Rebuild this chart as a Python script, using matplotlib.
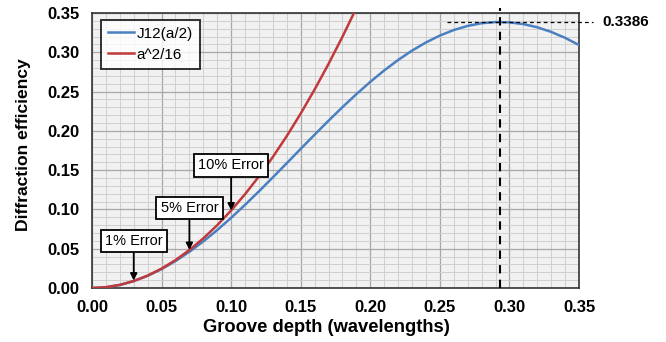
import matplotlib
matplotlib.use("Agg")
import matplotlib.pyplot as plt
from matplotlib.ticker import MultipleLocator, FormatStrFormatter

# Data
depth = [0.00, 0.01, 0.02, 0.03, 0.04, 0.05, 0.06, 0.07, 0.08, 0.09,
         0.10, 0.11, 0.12, 0.13, 0.14, 0.15, 0.16, 0.17, 0.18, 0.19,
         0.20, 0.21, 0.22, 0.23, 0.24, 0.25, 0.26, 0.27, 0.28, 0.29,
         0.30, 0.31, 0.32, 0.33, 0.34, 0.35]
j1_sq = [0.0000, 0.00099, 0.00393, 0.00880, 0.01554, 0.02407, 0.03429, 0.04607,
         0.05928, 0.07376, 0.08935, 0.10585, 0.12308, 0.14084, 0.15891, 0.17709,
         0.19516, 0.21293, 0.23017, 0.24671, 0.26234, 0.27689, 0.29020, 0.30212,
         0.31252, 0.32129, 0.32833, 0.33357, 0.33697, 0.33848, 0.33811, 0.33587,
         0.33180, 0.32595, 0.31839, 0.30923]
depth_red = [0.00, 0.01, 0.02, 0.03, 0.04, 0.05, 0.06, 0.07, 0.08, 0.09,
             0.10, 0.11, 0.12, 0.13, 0.14, 0.15, 0.16, 0.17, 0.18, 0.19]
a2_16 = [0.0000, 0.00099, 0.00395, 0.00888, 0.01579, 0.02467, 0.03553, 0.04836,
         0.06317, 0.07994, 0.09870, 0.11942, 0.14212, 0.16680, 0.19344, 0.22207,
         0.25266, 0.28523, 0.31978, 0.35629]
series_labels = ["J12(a/2)", "a^2/16"]
error_labels = ["1% Error", "5% Error", "10% Error"]
error_x = [0.03, 0.07, 0.10]
error_y = [0.0095, 0.0484, 0.0987]
peak_x = 0.293
peak_y = 0.3386

plt.rcParams['font.family'] = ['Liberation Sans', 'DejaVu Sans']

fig = plt.figure(figsize=(6.66, 3.42), dpi=100)
ax = fig.add_axes([92/666, 1 - 288/342, (579-92)/666, (288-13)/342])
ax.set_facecolor('#f1f1f1')

ax.plot(depth, j1_sq, color='#4a7fc1', lw=1.8, label=series_labels[0], zorder=4)
ax.plot(depth_red, a2_16, color='#c0393b', lw=1.8, label=series_labels[1], zorder=4)

ax.set_xlim(0, 0.35)
ax.set_ylim(0, 0.35)
ax.xaxis.set_major_locator(MultipleLocator(0.05))
ax.yaxis.set_major_locator(MultipleLocator(0.05))
ax.xaxis.set_minor_locator(MultipleLocator(0.01))
ax.yaxis.set_minor_locator(MultipleLocator(0.01))
ax.grid(which='major', color='#a8a8a8', lw=0.9, zorder=0)
ax.grid(which='minor', color='#cfcfcf', lw=0.7, zorder=0)
ax.set_axisbelow(True)
ax.tick_params(which='both', length=0)
ax.tick_params(axis='x', pad=9)
ax.tick_params(axis='y', pad=9)
ax.xaxis.set_major_formatter(FormatStrFormatter('%.2f'))
ax.yaxis.set_major_formatter(FormatStrFormatter('%.2f'))
for lab in ax.get_xticklabels() + ax.get_yticklabels():
    lab.set_fontsize(12)
    lab.set_fontweight('bold')
for s in ax.spines.values():
    s.set_color('#333333')
    s.set_linewidth(1.2)

ax.set_xlabel('Groove depth (wavelengths)', fontsize=13.2, fontweight='bold')
ax.set_ylabel('Diffraction efficiency', fontsize=12.6, fontweight='bold')
ax.xaxis.set_label_coords(0.4815, -0.112)
ax.yaxis.set_label_coords(-0.125, 0.52)

leg = ax.legend(loc='upper left', bbox_to_anchor=(0.018, 0.975), fontsize=11,
                frameon=True, fancybox=False, edgecolor='black', handlelength=1.75,
                handletextpad=0.15, borderpad=0.45, labelspacing=0.45,
                borderaxespad=0.0)
leg.get_frame().set_linewidth(1.4)
leg.get_frame().set_facecolor('white')

# Peak dashed lines
ax.plot([peak_x, peak_x], [0, 0.356], color='black', lw=1.5, ls=(0, (4, 3)),
        clip_on=False, zorder=5)
ax.plot([0.255, 0.360], [peak_y, peak_y], color='black', lw=0.9, ls=(0, (3, 2.5)),
        clip_on=False, zorder=5)
ax.text(0.3666, peak_y, f'{peak_y:.4f}', fontsize=11, fontweight='bold',
        va='center', ha='left', clip_on=False)

# Error annotations (box centres above each target)
box_y = [0.0598, 0.1018, 0.156]
for lab, ex, ey, by in zip(error_labels, error_x, error_y, box_y):
    ax.annotate(lab, xy=(ex, ey), xytext=(ex, by), fontsize=10.5,
                ha='center', va='center', zorder=6,
                bbox=dict(boxstyle='square,pad=0.3', fc='white', ec='black', lw=1.3),
                arrowprops=dict(arrowstyle='-|>', color='black', lw=1.3,
                                mutation_scale=10, shrinkA=0, shrinkB=0))

fig.savefig('out.png', dpi=100)
